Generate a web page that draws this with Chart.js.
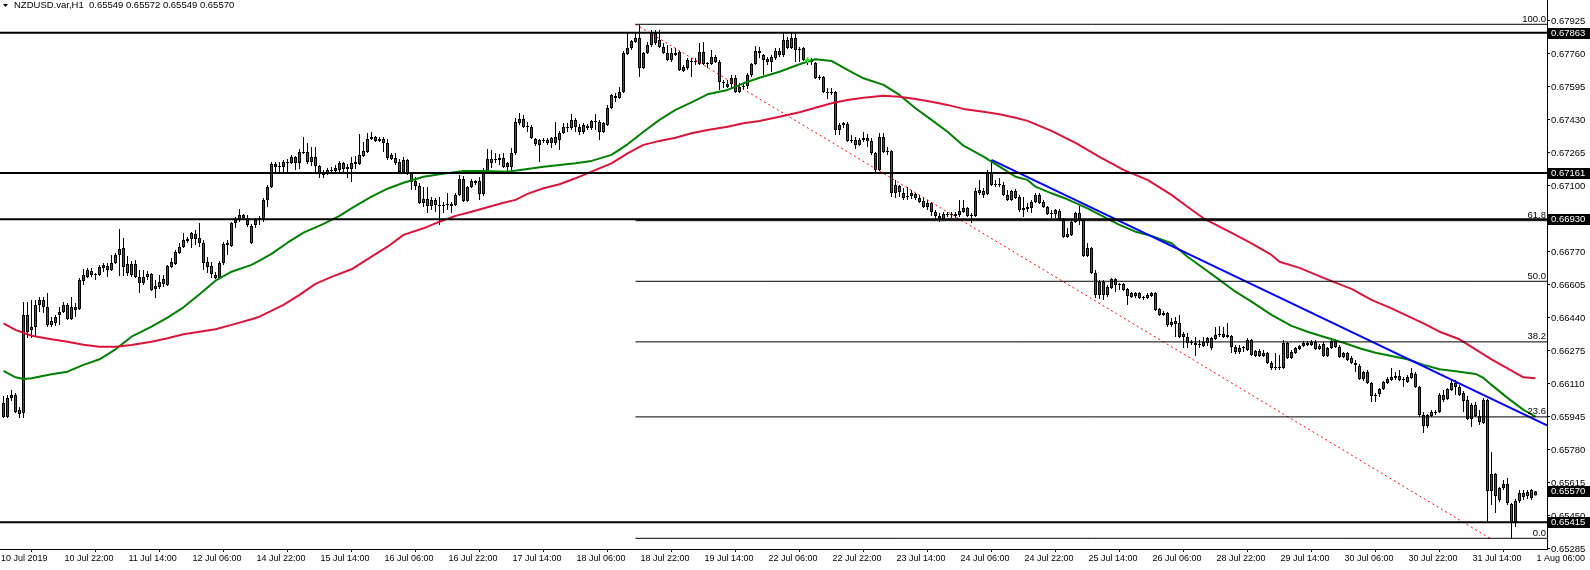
<!DOCTYPE html>
<html>
<head>
<meta charset="utf-8">
<style>
html,body{margin:0;padding:0;background:#ffffff;overflow:hidden;}
canvas{display:block;}
</style>
<script src="https://cdn.jsdelivr.net/npm/chart.js@4.4.1/dist/chart.umd.min.js"></script>
</head>
<body>
<canvas id="c" width="1590" height="570"></canvas>
<script>
// ---------- header ----------
const symbolTitle = 'NZDUSD.var,H1';
const lastQuote = ['0.65549', '0.65572', '0.65549', '0.65570'];

// ---------- hourly candles (bar 0 = 10 Jul 2019 07:00) ----------
const opens = [
0.66012,0.65942,0.66037,0.66052,0.65977,0.65962,0.66452,0.66377,0.66392,0.66502,
0.66527,0.66492,0.66402,0.66412,0.66452,0.66467,0.66502,0.66432,0.66492,0.66482,
0.66622,0.66642,0.66652,0.66657,0.66652,0.66687,0.66677,0.66677,0.66712,0.66752,
0.66787,0.66707,0.66652,0.66707,0.66642,0.66612,0.66642,0.66657,0.66582,0.66592,
0.66607,0.66602,0.66692,0.66707,0.66762,0.66792,0.66822,0.66832,0.66832,0.66837,
0.66812,0.66717,0.66697,0.66652,0.66637,0.66712,0.66802,0.66797,0.66912,0.66927,
0.66937,0.66937,0.66897,0.66902,0.66927,0.66927,0.67027,0.67092,0.67207,0.67192,
0.67192,0.67212,0.67212,0.67242,0.67212,0.67267,0.67267,0.67217,0.67242,0.67197,
0.67162,0.67162,0.67177,0.67172,0.67177,0.67212,0.67182,0.67182,0.67207,0.67207,
0.67247,0.67267,0.67332,0.67342,0.67322,0.67332,0.67312,0.67252,0.67237,0.67217,
0.67167,0.67227,0.67162,0.67122,0.67097,0.67012,0.67032,0.66997,0.67027,0.67002,
0.66997,0.67002,0.66997,0.67002,0.67052,0.67132,0.67022,0.67092,0.67112,0.67122,
0.67057,0.67167,0.67212,0.67232,0.67227,0.67237,0.67212,0.67192,0.67262,0.67412,
0.67432,0.67392,0.67392,0.67332,0.67302,0.67322,0.67312,0.67337,0.67312,0.67327,
0.67362,0.67392,0.67387,0.67427,0.67392,0.67367,0.67397,0.67387,0.67422,0.67417,
0.67367,0.67402,0.67487,0.67537,0.67537,0.67567,0.67757,0.67787,0.67817,0.67837,
0.67687,0.67762,0.67802,0.67862,0.67827,0.67792,0.67762,0.67727,0.67762,0.67767,
0.67692,0.67687,0.67722,0.67717,0.67707,0.67767,0.67707,0.67707,0.67742,0.67717,
0.67617,0.67607,0.67607,0.67637,0.67567,0.67592,0.67597,0.67652,0.67707,0.67762,
0.67752,0.67732,0.67717,0.67737,0.67772,0.67752,0.67827,0.67787,0.67837,0.67777,
0.67787,0.67727,0.67727,0.67712,0.67637,0.67642,0.67567,0.67562,0.67567,0.67377,
0.67402,0.67407,0.67322,0.67327,0.67302,0.67327,0.67337,0.67322,0.67262,0.67177,
0.67342,0.67267,0.67272,0.67062,0.67097,0.67062,0.67042,0.67047,0.67057,0.67037,
0.67022,0.66992,0.67012,0.66967,0.66947,0.66932,0.66957,0.66952,0.66957,0.66952,
0.66967,0.66987,0.66947,0.66947,0.67062,0.67072,0.67057,0.67162,0.67102,0.67102,
0.67102,0.67052,0.67027,0.67072,0.67042,0.66977,0.66982,0.66987,0.67017,0.67052,
0.67017,0.66992,0.66962,0.66957,0.66972,0.66927,0.66842,0.66852,0.66917,0.66962,
0.66927,0.66747,0.66787,0.66662,0.66552,0.66617,0.66552,0.66587,0.66632,0.66602,
0.66607,0.66582,0.66542,0.66547,0.66562,0.66537,0.66537,0.66547,0.66562,0.66482,
0.66452,0.66462,0.66402,0.66407,0.66412,0.66357,0.66342,0.66312,0.66312,0.66302,
0.66297,0.66312,0.66337,0.66332,0.66352,0.66342,0.66352,0.66347,0.66292,0.66267,
0.66287,0.66277,0.66327,0.66247,0.66272,0.66247,0.66262,0.66212,0.66187,0.66187,
0.66187,0.66312,0.66237,0.66262,0.66282,0.66297,0.66302,0.66302,0.66317,0.66282,
0.66307,0.66247,0.66287,0.66322,0.66292,0.66242,0.66262,0.66237,0.66212,0.66197,
0.66132,0.66167,0.66112,0.66047,0.66057,0.66082,0.66112,0.66127,0.66137,0.66147,
0.66127,0.66117,0.66137,0.66157,0.66092,0.65952,0.65897,0.65947,0.65967,0.65967,
0.66052,0.66032,0.66077,0.66112,0.66092,0.66062,0.66027,0.65932,0.66002,0.65947,
0.65912,0.66027,0.65572,0.65657,0.65527,0.65587,0.65607,0.65507,0.65417,0.65522,
0.65542,0.65547,0.65537,0.65549];
const highs = [
0.66047,0.66052,0.66077,0.66062,0.65992,0.66517,0.66517,0.66527,0.66527,0.66542,
0.66542,0.66562,0.66442,0.66452,0.66492,0.66517,0.66512,0.66542,0.66512,0.66637,
0.66682,0.66687,0.66687,0.66662,0.66702,0.66712,0.66712,0.66752,0.66762,0.66882,
0.66837,0.66747,0.66722,0.66727,0.66677,0.66677,0.66672,0.66662,0.66627,0.66652,
0.66652,0.66702,0.66737,0.66777,0.66812,0.66862,0.66842,0.66867,0.66877,0.66912,
0.66827,0.66742,0.66717,0.66667,0.66722,0.66817,0.66827,0.66917,0.66942,0.66982,
0.66957,0.66952,0.66907,0.66937,0.66947,0.67037,0.67102,0.67217,0.67217,0.67217,
0.67227,0.67232,0.67252,0.67247,0.67282,0.67342,0.67312,0.67292,0.67292,0.67202,
0.67177,0.67187,0.67192,0.67202,0.67222,0.67217,0.67207,0.67242,0.67247,0.67357,
0.67317,0.67362,0.67367,0.67347,0.67342,0.67342,0.67332,0.67262,0.67262,0.67232,
0.67242,0.67232,0.67167,0.67142,0.67112,0.67092,0.67092,0.67042,0.67037,0.67042,
0.67017,0.67062,0.67017,0.67062,0.67152,0.67147,0.67097,0.67132,0.67127,0.67142,
0.67187,0.67282,0.67277,0.67262,0.67257,0.67262,0.67217,0.67287,0.67437,0.67462,
0.67452,0.67417,0.67402,0.67337,0.67332,0.67337,0.67337,0.67342,0.67417,0.67372,
0.67412,0.67412,0.67457,0.67437,0.67407,0.67412,0.67407,0.67427,0.67457,0.67427,
0.67417,0.67502,0.67557,0.67562,0.67592,0.67772,0.67862,0.67827,0.67862,0.67902,
0.67767,0.67817,0.67877,0.67877,0.67877,0.67812,0.67802,0.67787,0.67787,0.67772,
0.67702,0.67737,0.67737,0.67737,0.67812,0.67817,0.67717,0.67777,0.67752,0.67727,
0.67627,0.67627,0.67652,0.67652,0.67612,0.67612,0.67662,0.67712,0.67797,0.67792,
0.67757,0.67742,0.67752,0.67787,0.67787,0.67862,0.67842,0.67862,0.67862,0.67792,
0.67792,0.67737,0.67737,0.67717,0.67652,0.67647,0.67587,0.67587,0.67572,0.67412,
0.67417,0.67417,0.67352,0.67342,0.67337,0.67367,0.67357,0.67337,0.67267,0.67362,
0.67362,0.67292,0.67277,0.67127,0.67102,0.67087,0.67092,0.67077,0.67062,0.67052,
0.67037,0.67027,0.67017,0.66977,0.66962,0.66967,0.66967,0.66967,0.66967,0.67027,
0.67027,0.66992,0.66962,0.67087,0.67127,0.67087,0.67177,0.67227,0.67127,0.67137,
0.67117,0.67077,0.67077,0.67082,0.67052,0.67042,0.67012,0.67027,0.67062,0.67062,
0.67027,0.66997,0.66977,0.66982,0.66982,0.66937,0.66887,0.66927,0.66967,0.66997,
0.66932,0.66812,0.66792,0.66677,0.66627,0.66627,0.66602,0.66637,0.66637,0.66612,
0.66612,0.66587,0.66567,0.66567,0.66567,0.66547,0.66562,0.66567,0.66567,0.66487,
0.66472,0.66467,0.66437,0.66442,0.66452,0.66367,0.66362,0.66327,0.66342,0.66327,
0.66342,0.66342,0.66342,0.66392,0.66397,0.66392,0.66412,0.66352,0.66302,0.66302,
0.66297,0.66337,0.66332,0.66277,0.66282,0.66277,0.66267,0.66222,0.66262,0.66252,
0.66327,0.66317,0.66277,0.66292,0.66302,0.66322,0.66322,0.66327,0.66327,0.66307,
0.66317,0.66292,0.66337,0.66332,0.66302,0.66267,0.66267,0.66247,0.66227,0.66207,
0.66172,0.66177,0.66117,0.66062,0.66087,0.66122,0.66142,0.66187,0.66167,0.66177,
0.66142,0.66152,0.66187,0.66167,0.66097,0.65967,0.65957,0.65977,0.65977,0.66062,
0.66077,0.66087,0.66127,0.66127,0.66102,0.66072,0.66047,0.66012,0.66017,0.65977,
0.66037,0.66032,0.65767,0.65662,0.65592,0.65627,0.65637,0.65512,0.65532,0.65577,
0.65577,0.65577,0.65582,0.65572];
const lows = [
0.65937,0.65937,0.66022,0.65962,0.65937,0.65937,0.66337,0.66337,0.66342,0.66467,
0.66462,0.66392,0.66392,0.66397,0.66402,0.66462,0.66427,0.66427,0.66442,0.66477,
0.66602,0.66637,0.66642,0.66627,0.66647,0.66667,0.66642,0.66672,0.66707,0.66647,
0.66647,0.66647,0.66642,0.66637,0.66562,0.66602,0.66627,0.66572,0.66537,0.66582,
0.66592,0.66597,0.66687,0.66702,0.66757,0.66787,0.66812,0.66787,0.66802,0.66792,
0.66677,0.66662,0.66637,0.66632,0.66632,0.66702,0.66752,0.66792,0.66887,0.66917,
0.66927,0.66892,0.66807,0.66887,0.66902,0.66917,0.66992,0.67087,0.67167,0.67167,
0.67167,0.67167,0.67207,0.67177,0.67182,0.67257,0.67207,0.67197,0.67167,0.67137,
0.67137,0.67152,0.67157,0.67162,0.67167,0.67167,0.67137,0.67117,0.67182,0.67202,
0.67242,0.67262,0.67327,0.67317,0.67317,0.67267,0.67227,0.67227,0.67202,0.67162,
0.67162,0.67152,0.67077,0.67077,0.67007,0.66992,0.66962,0.66977,0.66967,0.66902,
0.66962,0.66977,0.66962,0.66997,0.67047,0.67017,0.67017,0.67087,0.67102,0.67027,
0.67047,0.67157,0.67187,0.67212,0.67202,0.67187,0.67167,0.67177,0.67252,0.67402,
0.67387,0.67367,0.67332,0.67297,0.67217,0.67312,0.67302,0.67287,0.67302,0.67277,
0.67357,0.67367,0.67377,0.67367,0.67352,0.67357,0.67377,0.67377,0.67377,0.67327,
0.67362,0.67397,0.67482,0.67517,0.67532,0.67562,0.67752,0.67777,0.67812,0.67642,
0.67682,0.67757,0.67792,0.67802,0.67787,0.67757,0.67722,0.67717,0.67747,0.67672,
0.67667,0.67677,0.67642,0.67702,0.67702,0.67702,0.67687,0.67702,0.67712,0.67577,
0.67587,0.67587,0.67587,0.67562,0.67562,0.67577,0.67582,0.67642,0.67702,0.67737,
0.67652,0.67702,0.67667,0.67727,0.67742,0.67742,0.67782,0.67782,0.67717,0.67717,
0.67722,0.67702,0.67702,0.67632,0.67627,0.67562,0.67532,0.67552,0.67352,0.67352,
0.67387,0.67317,0.67312,0.67282,0.67297,0.67317,0.67292,0.67252,0.67167,0.67172,
0.67262,0.67252,0.67042,0.67037,0.67042,0.67027,0.67027,0.67032,0.67027,0.67012,
0.66987,0.66977,0.66947,0.66927,0.66917,0.66927,0.66942,0.66937,0.66937,0.66942,
0.66962,0.66942,0.66912,0.66942,0.67052,0.67037,0.67052,0.67097,0.67092,0.67092,
0.67047,0.67022,0.67022,0.67032,0.66967,0.66942,0.66967,0.66962,0.67012,0.67007,
0.66987,0.66952,0.66937,0.66937,0.66922,0.66837,0.66837,0.66847,0.66912,0.66902,
0.66742,0.66742,0.66657,0.66537,0.66532,0.66527,0.66542,0.66582,0.66567,0.66577,
0.66572,0.66502,0.66537,0.66537,0.66532,0.66527,0.66532,0.66542,0.66472,0.66447,
0.66447,0.66392,0.66392,0.66342,0.66337,0.66287,0.66287,0.66302,0.66247,0.66287,
0.66292,0.66297,0.66277,0.66327,0.66342,0.66337,0.66337,0.66262,0.66257,0.66257,
0.66267,0.66272,0.66247,0.66242,0.66242,0.66242,0.66207,0.66177,0.66177,0.66177,
0.66182,0.66232,0.66232,0.66257,0.66277,0.66292,0.66297,0.66297,0.66277,0.66277,
0.66242,0.66242,0.66282,0.66287,0.66237,0.66237,0.66222,0.66207,0.66167,0.66127,
0.66122,0.66107,0.66017,0.66017,0.66042,0.66077,0.66107,0.66122,0.66127,0.66122,
0.66092,0.66112,0.66132,0.66087,0.65942,0.65862,0.65887,0.65942,0.65952,0.65962,
0.66017,0.66027,0.66072,0.66052,0.66047,0.65967,0.65927,0.65892,0.65942,0.65902,
0.65907,0.65412,0.65502,0.65462,0.65517,0.65577,0.65502,0.65337,0.65392,0.65512,
0.65527,0.65532,0.65527,0.65549];
const closes = [
0.65942,0.66037,0.66052,0.65967,0.65957,0.66452,0.66367,0.66392,0.66502,0.66527,
0.66492,0.66402,0.66422,0.66442,0.66467,0.66502,0.66432,0.66492,0.66477,0.66627,
0.66652,0.66677,0.66672,0.66652,0.66692,0.66702,0.66697,0.66712,0.66752,0.66782,
0.66692,0.66662,0.66707,0.66642,0.66612,0.66642,0.66657,0.66577,0.66597,0.66617,
0.66632,0.66697,0.66717,0.66767,0.66792,0.66827,0.66832,0.66862,0.66857,0.66812,
0.66712,0.66692,0.66657,0.66637,0.66712,0.66807,0.66812,0.66912,0.66927,0.66952,
0.66952,0.66902,0.66812,0.66927,0.66937,0.67027,0.67092,0.67207,0.67192,0.67197,
0.67217,0.67217,0.67242,0.67212,0.67267,0.67262,0.67217,0.67242,0.67197,0.67162,
0.67152,0.67177,0.67172,0.67187,0.67212,0.67182,0.67192,0.67212,0.67217,0.67252,
0.67272,0.67332,0.67342,0.67322,0.67332,0.67312,0.67237,0.67232,0.67212,0.67167,
0.67227,0.67162,0.67117,0.67097,0.67012,0.67032,0.66997,0.67027,0.67002,0.66997,
0.67002,0.67007,0.67007,0.67052,0.67132,0.67022,0.67092,0.67122,0.67122,0.67057,
0.67162,0.67232,0.67232,0.67227,0.67237,0.67192,0.67192,0.67262,0.67417,0.67432,
0.67392,0.67397,0.67337,0.67307,0.67327,0.67327,0.67327,0.67312,0.67342,0.67362,
0.67392,0.67387,0.67427,0.67392,0.67367,0.67402,0.67387,0.67422,0.67417,0.67367,
0.67412,0.67487,0.67552,0.67547,0.67567,0.67762,0.67787,0.67822,0.67837,0.67687,
0.67762,0.67802,0.67867,0.67812,0.67792,0.67762,0.67727,0.67762,0.67752,0.67677,
0.67672,0.67727,0.67717,0.67722,0.67767,0.67707,0.67712,0.67742,0.67717,0.67617,
0.67612,0.67592,0.67637,0.67567,0.67592,0.67597,0.67652,0.67707,0.67772,0.67772,
0.67727,0.67717,0.67742,0.67772,0.67752,0.67827,0.67787,0.67837,0.67777,0.67782,
0.67727,0.67732,0.67717,0.67637,0.67642,0.67567,0.67562,0.67567,0.67377,0.67402,
0.67412,0.67322,0.67327,0.67302,0.67327,0.67337,0.67322,0.67262,0.67177,0.67342,
0.67267,0.67272,0.67062,0.67102,0.67067,0.67037,0.67047,0.67062,0.67037,0.67017,
0.66992,0.67012,0.66967,0.66947,0.66927,0.66957,0.66952,0.66957,0.66947,0.66972,
0.66987,0.66947,0.66952,0.67072,0.67077,0.67052,0.67162,0.67102,0.67107,0.67102,
0.67052,0.67027,0.67072,0.67037,0.66977,0.66987,0.66992,0.67017,0.67052,0.67012,
0.66992,0.66957,0.66957,0.66977,0.66927,0.66842,0.66857,0.66917,0.66962,0.66927,
0.66747,0.66787,0.66662,0.66552,0.66617,0.66552,0.66592,0.66632,0.66602,0.66607,
0.66577,0.66547,0.66562,0.66562,0.66537,0.66542,0.66552,0.66562,0.66477,0.66452,
0.66462,0.66402,0.66417,0.66422,0.66342,0.66342,0.66312,0.66317,0.66302,0.66307,
0.66317,0.66337,0.66287,0.66352,0.66357,0.66357,0.66342,0.66292,0.66267,0.66287,
0.66292,0.66327,0.66252,0.66272,0.66247,0.66262,0.66212,0.66187,0.66192,0.66192,
0.66312,0.66237,0.66267,0.66287,0.66297,0.66312,0.66312,0.66317,0.66282,0.66297,
0.66247,0.66287,0.66322,0.66292,0.66242,0.66262,0.66227,0.66212,0.66202,0.66132,
0.66167,0.66112,0.66047,0.66052,0.66082,0.66117,0.66132,0.66142,0.66147,0.66127,
0.66132,0.66142,0.66162,0.66092,0.65952,0.65897,0.65952,0.65967,0.65962,0.66052,
0.66027,0.66082,0.66112,0.66092,0.66052,0.66022,0.65932,0.66002,0.65947,0.65917,
0.66027,0.65572,0.65657,0.65547,0.65587,0.65607,0.65512,0.65417,0.65522,0.65562,
0.65562,0.65567,0.65577,0.65570];

// ---------- moving averages [bar, price] ----------
const maGreen = [[0,0.66172],[3,0.66140],[5,0.66132],[7,0.66135],[12,0.66155],[16,0.66168],[20,0.66202],[24,0.66230],[28,0.66280],[32,0.66343],[37,0.66393],[41,0.66438],[45,0.66490],[49,0.66555],[53,0.66623],[57,0.66668],[62,0.66702],[64,0.66723],[67,0.66757],[71,0.66813],[75,0.66863],[80,0.66907],[84,0.66947],[88,0.66997],[92,0.67043],[96,0.67083],[100,0.67113],[105,0.67143],[109,0.67155],[115,0.67172],[120,0.67172],[126,0.67168],[131,0.67182],[135,0.67193],[139,0.67202],[143,0.67210],[147,0.67222],[152,0.67252],[156,0.67305],[160,0.67368],[164,0.67427],[168,0.67477],[172,0.67515],[176,0.67555],[181,0.67577],[185,0.67610],[189,0.67638],[194,0.67668],[199,0.67705],[203,0.67730],[207,0.67722],[211,0.67677],[215,0.67635],[220,0.67602],[224,0.67552],[228,0.67485],[232,0.67427],[236,0.67368],[240,0.67298],[245,0.67243],[249,0.67193],[253,0.67143],[256,0.67127],[258,0.67093],[262,0.67060],[266,0.67030],[271,0.66985],[275,0.66943],[279,0.66902],[283,0.66868],[287,0.66847],[292,0.66810],[296,0.66743],[300,0.66685],[304,0.66627],[308,0.66568],[312,0.66518],[317,0.66452],[322,0.66397],[326,0.66368],[330,0.66343],[335,0.66313],[339,0.66285],[343,0.66263],[347,0.66247],[351,0.66230],[355,0.66202],[359,0.66180],[364,0.66168],[368,0.66157],[370,0.66137],[372,0.66102],[376,0.66037],[380,0.65977],[383,0.65943]];
const maRed = [[0,0.66410],[3,0.66377],[7,0.66348],[12,0.66330],[16,0.66318],[20,0.66303],[24,0.66293],[28,0.66293],[32,0.66302],[37,0.66318],[41,0.66335],[45,0.66355],[49,0.66368],[53,0.66380],[57,0.66402],[62,0.66430],[64,0.66443],[70,0.66502],[74,0.66552],[78,0.66607],[82,0.66642],[87,0.66680],[92,0.66743],[96,0.66793],[100,0.66852],[105,0.66885],[109,0.66918],[113,0.66947],[117,0.66968],[121,0.66990],[125,0.67013],[128,0.67027],[131,0.67057],[135,0.67085],[139,0.67105],[143,0.67135],[147,0.67168],[152,0.67210],[156,0.67260],[160,0.67302],[164,0.67322],[168,0.67338],[172,0.67360],[176,0.67377],[181,0.67393],[185,0.67410],[189,0.67422],[194,0.67443],[199,0.67465],[203,0.67488],[207,0.67510],[211,0.67527],[215,0.67538],[220,0.67548],[224,0.67543],[228,0.67532],[232,0.67518],[236,0.67502],[240,0.67482],[245,0.67468],[249,0.67455],[253,0.67438],[256,0.67422],[262,0.67372],[268,0.67312],[274,0.67242],[280,0.67177],[286,0.67127],[292,0.67052],[296,0.66993],[300,0.66935],[304,0.66893],[308,0.66852],[312,0.66810],[317,0.66752],[319,0.66718],[324,0.66687],[330,0.66637],[337,0.66582],[342,0.66527],[347,0.66485],[351,0.66447],[355,0.66410],[359,0.66368],[364,0.66330],[368,0.66280],[372,0.66230],[376,0.66185],[380,0.66140],[383,0.66135]];

// ---------- objects ----------
const hLines = [0.67863, 0.67161, 0.66930, 0.65415];
const bidPrice = 0.65570;
const fibLevelNames = ['100.0', '61.8', '50.0', '38.2', '23.6', '0.0'];
const fibLevelPrices = [0.67905, 0.66923, 0.66620, 0.66317, 0.65942, 0.65335];
const fibStartBar = 158;
const fibDiagonal = [[158, 0.67905], [371.6, 0.65335]];
const trendLine = [[247, 0.67227], [385.875, 0.65900]];
const tradeMarker = [[201, 0.67727]];

// ---------- axes ----------
const X_MIN = -0.875, X_MAX = 385.875;
const Y_MIN = 0.652815, Y_MAX = 0.680265;
const xTickBars = [X_MIN,15,31,47,63,79,95,111,127,143,159,175,191,207,223,239,255,271,287,303,319,335,351,367,383];
const xTickLabels = ['10 Jul 2019','10 Jul 22:00','11 Jul 14:00','12 Jul 06:00','14 Jul 22:00','15 Jul 14:00','16 Jul 06:00','16 Jul 22:00','17 Jul 14:00','18 Jul 06:00','18 Jul 22:00','19 Jul 14:00','22 Jul 06:00','22 Jul 22:00','23 Jul 14:00','24 Jul 06:00','24 Jul 22:00','25 Jul 14:00','26 Jul 06:00','28 Jul 22:00','29 Jul 14:00','30 Jul 06:00','30 Jul 22:00','31 Jul 14:00','1 Aug 06:00'];
const yTickValues = [0.67925,0.67760,0.67595,0.67430,0.67265,0.67100,0.66935,0.66770,0.66605,0.66440,0.66275,0.66110,0.65945,0.65780,0.65615,0.65450,0.65285];

const FONT = 'Liberation Sans';
const UP = '#008000', DOWN = '#A52A2A';

const idx = opens.map((_, i) => i);
const wickData = idx.map(i => ({x: i, y: [lows[i], highs[i]]}));
const bodyData = idx.map(i => ({x: i, y: [opens[i], closes[i]]}));
const bodyColors = idx.map(i => closes[i] >= opens[i] ? UP : DOWN);

function lineDs(points, color, width, order, dash) {
  return {
    type: 'line',
    data: points.map(p => ({x: p[0], y: p[1]})),
    borderColor: color, borderWidth: width, borderDash: dash || [],
    pointRadius: 0, pointHoverRadius: 0, pointHitRadius: 0, tension: 0, fill: false, order: order,
    borderCapStyle: 'butt', borderJoinStyle: 'round'
  };
}

const datasets = [];
hLines.forEach(p => datasets.push(lineDs([[X_MIN, p], [X_MAX, p]], '#000000', 2, 0)));
fibLevelPrices.forEach(p => datasets.push(lineDs([[fibStartBar, p], [X_MAX, p]], '#000000', 1, 0)));
datasets.push(lineDs(fibDiagonal, '#FF0000', 1, 0, [2, 3]));
datasets.push(lineDs(trendLine, '#0000FF', 2, 0));
datasets.push({
  type: 'line', data: tradeMarker.map(p => ({x: p[0], y: p[1]})), showLine: false,
  pointStyle: 'cross', pointRadius: 3, pointHoverRadius: 3, pointHitRadius: 0,
  borderColor: '#00FF00', borderWidth: 1.5, order: 0
});
datasets.push(lineDs(maRed, '#DC143C', 2, 1));
datasets.push(lineDs(maGreen, '#008000', 2, 1));
datasets.push({
  type: 'bar', data: bodyData, grouped: false, maxBarThickness: 3, barThickness: 3,
  backgroundColor: bodyColors, borderColor: '#000000', borderWidth: 1, borderSkipped: false,
  minBarLength: 1, inflateAmount: 0, order: 2
});
datasets.push({
  type: 'bar', data: wickData, grouped: false, maxBarThickness: 1, barThickness: 1,
  backgroundColor: '#000000', borderWidth: 0, inflateAmount: 0, order: 3
});

const overlay = {
  id: 'overlay',
  afterDraw(chart) {
    const ctx = chart.ctx, ys = chart.scales.y, area = chart.chartArea;
    ctx.save();
    // header
    ctx.fillStyle = '#000';
    ctx.beginPath(); ctx.moveTo(3, 4); ctx.lineTo(8, 4); ctx.lineTo(5.5, 7); ctx.closePath(); ctx.fill();
    ctx.font = '9.5px "' + FONT + '"';
    ctx.textBaseline = 'middle'; ctx.textAlign = 'left';
    ctx.fillText(symbolTitle + '  ' + lastQuote.join(' '), 14, 5.5);
    // fibo level captions
    ctx.textAlign = 'right'; ctx.textBaseline = 'alphabetic';
    fibLevelNames.forEach((n, k) => {
      const y = ys.getPixelForValue(fibLevelPrices[k]);
      ctx.fillText(n, area.right - 1, y - 2.5);
    });
    // price boxes
    ctx.textAlign = 'left'; ctx.textBaseline = 'middle';
    hLines.concat([bidPrice]).forEach(p => {
      const y = Math.round(ys.getPixelForValue(p));
      ctx.fillStyle = '#000';
      ctx.fillRect(area.right + 1, y - 5, 42, 11);
      ctx.fillStyle = '#fff';
      ctx.fillText(p.toFixed(5), area.right + 4, y + 0.5);
    });
    ctx.restore();
  }
};

const tickGrid = {display: true, drawOnChartArea: false, color: 'rgba(0,0,0,0)', tickColor: '#000', tickLength: 3, tickWidth: 1};

new Chart(document.getElementById('c'), {
  type: 'bar',
  data: {datasets: datasets},
  plugins: [overlay],
  options: {
    responsive: false, animation: false, devicePixelRatio: 1, events: [],
    layout: {padding: 0, autoPadding: false},
    plugins: {legend: {display: false}, tooltip: {enabled: false}, title: {display: false}},
    scales: {
      x: {
        type: 'linear', position: 'bottom', min: X_MIN, max: X_MAX, offset: false,
        grid: tickGrid, border: {display: true, color: '#000', width: 1},
        afterBuildTicks: s => { s.ticks = xTickBars.map(v => ({value: v})); },
        ticks: {autoSkip: false, maxRotation: 0, minRotation: 0, align: 'start', padding: 1, labelOffset: 1,
                color: '#000', font: {family: FONT, size: 9}, callback: (v, i) => xTickLabels[i]},
        afterFit: s => { s.height = 21; s.paddingLeft = 0; s.paddingRight = 0; }
      },
      y: {
        type: 'linear', position: 'right', min: Y_MIN, max: Y_MAX,
        grid: tickGrid, border: {display: true, color: '#000', width: 1},
        afterBuildTicks: s => { s.ticks = yTickValues.map(v => ({value: v})); },
        ticks: {autoSkip: false, padding: 1, labelOffset: 1.5, color: '#000', font: {family: FONT, size: 9.5},
                callback: v => Number(v).toFixed(5)},
        afterFit: s => { s.width = 43; s.paddingTop = 0; s.paddingBottom = 0; }
      }
    }
  }
});
</script>
</body>
</html>
